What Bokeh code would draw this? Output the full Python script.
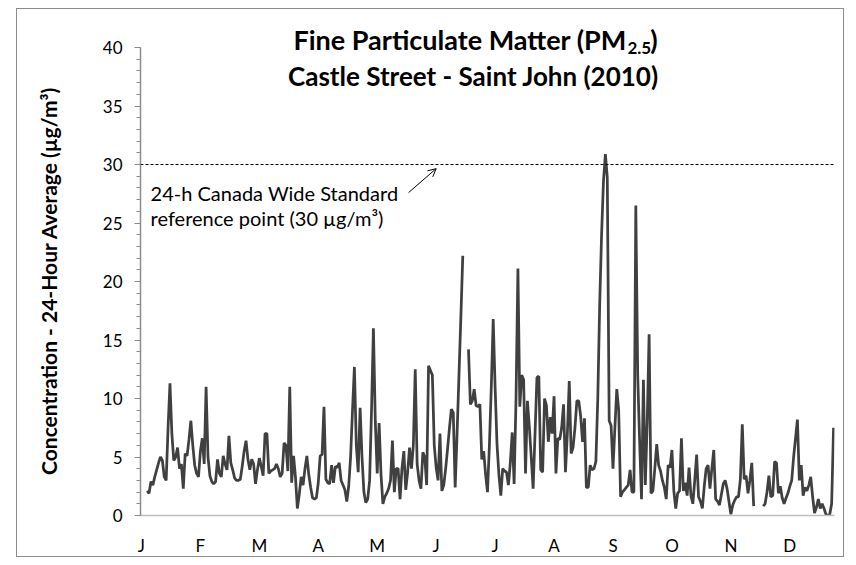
import math
from bokeh.plotting import figure
from bokeh.models import (Range1d, FixedTicker, Span, Label, Arrow, OpenHead,
                          ColumnDataSource)
from bokeh.embed import file_html
from bokeh.resources import INLINE

NaN = float("nan")

# Daily 24-h average PM2.5 (µg/m³), 2010, day index 0..364 (NaN = missing)
pm25 = [
    NaN, NaN, NaN, 2.1, 1.9, 2.9, 2.6, 3.3, 3.9, 4.5,
    5.0, 4.7, 3.3, 3.0, 7.5, 11.3, 7.0, 4.7, 5.0, 5.8,
    4.0, 4.4, 2.3, 5.3, 5.1, 6.5, 8.1, 6.0, 4.3, 3.6,
    3.3, 5.5, 6.6, 4.4, 11.0, 5.0, 3.4, 2.9, 2.7, 2.9,
    4.8, 3.6, 3.3, 5.1, 4.4, 3.9, 6.8, 4.5, 3.9, 3.2,
    3.0, 3.0, 3.1, 4.2, 5.5, 6.4, 4.8, 3.9, 4.8, 4.4,
    2.7, 3.9, 4.9, 4.2, 3.4, 7.0, 7.0, 3.6, 3.8, 3.9,
    4.0, 4.4, 4.0, 3.3, 3.6, 6.2, 6.0, 3.8, 11.0, 2.8,
    5.1, 3.3, 0.6, 1.8, 3.3, 2.6, 4.0, 5.1, 3.5, 2.4,
    1.5, 1.4, 1.5, 2.8, 5.1, 5.2, 9.3, 3.1, 2.8, 2.7,
    4.3, 2.8, 4.2, 4.1, 4.5, 3.0, 2.6, 2.2, 1.2, 2.5,
    5.0, 9.0, 12.7, 6.0, 3.7, 9.2, 5.0, 2.0, 1.1, 1.4,
    3.0, 9.0, 16.0, 8.0, 3.6, 7.9, 3.5, 1.0, 1.6, 1.9,
    2.3, 3.0, 6.4, 2.0, 4.0, 4.0, 1.4, 4.0, 5.5, 2.2,
    3.7, 5.8, 4.0, 6.0, 12.5, 4.4, 3.0, 2.3, 5.4, 5.0,
    2.6, 12.8, 12.4, 12.0, 6.0, 4.1, 3.0, 7.0, 2.1, 2.6,
    4.0, 5.7, 7.5, 9.1, 8.8, 2.4, 7.0, 12.0, 17.0, 22.2,
    NaN, NaN, 14.2, 9.5, 9.8, 10.8, 9.4, 9.3, 9.5, 4.8,
    5.5, 3.5, 2.0, 6.0, 11.0, 16.8, 11.0, 6.1, 3.5, 1.7,
    4.0, 3.8, 3.7, 2.6, 4.5, 7.1, 2.7, 10.0, 21.1, 9.3,
    12.0, 11.6, 3.6, 9.8, 7.6, 5.0, 2.3, 7.0, 11.8, 11.9,
    3.9, 3.7, 10.0, 9.4, 6.3, 8.4, 7.0, 10.2, 3.6, 6.6,
    6.5, 7.5, 9.5, 3.7, 7.0, 11.5, 5.3, 5.8, 7.5, 9.8,
    9.8, 8.5, 6.3, 8.3, 2.4, 2.4, 4.3, 3.9, 4.0, 4.6,
    10.0, 18.0, 24.0, 28.6, 30.9, 28.9, 8.1, 7.7, 4.0, 7.5,
    10.8, 9.0, 1.6, 2.0, 2.2, 2.4, 2.6, 3.9, 2.0, 2.0,
    26.5, 12.0, 6.4, 1.4, 11.6, 2.6, 8.0, 15.5, 1.9, 2.1,
    4.0, 6.1, 4.3, 3.8, 3.0, 2.4, 1.4, 4.3, 4.1, 5.6,
    2.1, 0.6, 1.9, 2.1, 6.6, 2.1, 2.8, 1.7, 4.1, 1.7,
    1.0, 3.0, 5.2, 1.6, 1.2, 0.6, 2.5, 4.0, 4.3, 2.3,
    4.0, 5.6, 1.4, 1.2, 0.9, 1.8, 2.7, 3.0, 2.3, 1.2,
    0.1, 0.9, 1.3, 1.6, 1.6, 3.1, 7.8, 3.1, 3.4, 1.9,
    3.0, 4.5, 0.8, NaN, NaN, NaN, NaN, 0.8, 1.0, 2.0,
    3.4, 1.6, 1.7, 4.6, 4.5, 1.9, 2.5, 1.5, 1.0, 1.5,
    1.9, 2.5, 3.0, 5.0, 6.6, 8.2, 3.0, 4.3, 1.7, 2.4,
    2.1, 2.6, 3.3, 1.6, 0.2, 0.7, 1.4, 0.6, 1.0, 0.6,
    0.1, 0.0, 0.1, 1.0, 7.5,
]
days = list(range(len(pm25)))

month_labels = ["J", "F", "M", "A", "M", "J", "J", "A", "S", "O", "N", "D"]
month_tick_days = [31 * i for i in range(12)]
y_major_ticks = [0, 5, 10, 15, 20, 25, 30, 35, 40]
y_minor_ticks = list(range(0, 41))
cws_standard = 30

FONT = "Lato"
NBSP = "\u00a0"

p = figure(width=828, height=549, output_backend="svg", toolbar_location=None,
           x_range=Range1d(-0.5, 364.5), y_range=Range1d(0, 42.31),
           min_border_left=123, min_border_right=11, min_border_top=11,
           min_border_bottom=41)
p.margin = (8, 0, 0, 16)
p.styles = {"border": "1px solid #8c8c8c", "box-sizing": "border-box"}
p.outline_line_color = None
p.xgrid.grid_line_color = None
p.ygrid.grid_line_color = None
p.background_fill_color = "white"
p.border_fill_color = "white"

src = ColumnDataSource(dict(day=days, pm=pm25))
p.line("day", "pm", source=src, line_color="#404040", line_width=2.75)

p.add_layout(Span(location=cws_standard, dimension="width", line_color="#000000",
                  line_width=1, line_dash="3 2"))

# Axes
xa = p.xaxis[0]
xa.ticker = FixedTicker(ticks=month_tick_days)
xa.major_label_overrides = {d: m for d, m in zip(month_tick_days, month_labels)}
xa.major_tick_out = 0
xa.major_tick_in = 0
xa.minor_tick_out = 0
xa.minor_tick_in = 0
xa.axis_line_color = "#bfbfbf"
xa.axis_line_width = 1.5
xa.major_label_standoff = 19
xa.major_label_text_font = FONT
xa.major_label_text_font_size = "17px"
xa.major_label_text_color = "#000000"

ya = p.yaxis[0]
ya.bounds = (0, 40)
ya.ticker = FixedTicker(ticks=y_major_ticks, minor_ticks=y_minor_ticks)
ya.major_tick_out = 6
ya.major_tick_in = 0
ya.minor_tick_out = 4
ya.minor_tick_in = 0
ya.major_tick_line_color = "#8c8c8c"
ya.minor_tick_line_color = "#8c8c8c"
ya.axis_line_color = "#8c8c8c"
ya.axis_line_width = 1.5
ya.major_label_standoff = 12
ya.major_label_text_font = FONT
ya.major_label_text_font_size = "17px"
ya.major_label_text_color = "#000000"
# trailing no-break spaces re-centre the label on the 0-40 axis span
ya.axis_label = "Concentration - 24-Hour Average (µg/m³)" + NBSP * 5
ya.axis_label_text_font = FONT
ya.axis_label_text_font_style = "bold"
ya.axis_label_text_font_size = "21px"
ya.axis_label_text_color = "#000000"
ya.axis_label_standoff = 39

# Title (with subscript)
p.add_layout(Label(x=255.3, y=40.7, text="Fine Particulate Matter (PM",
                   text_align="right", text_baseline="middle", text_font=FONT,
                   text_font_style="bold", text_font_size="27px", text_color="#000000"))
p.add_layout(Label(x=255.6, y=39.95, text="2.5", text_align="left",
                   text_baseline="middle", text_font=FONT, text_font_style="bold",
                   text_font_size="17px", text_color="#000000"))
p.add_layout(Label(x=267.6, y=40.7, text=")", text_align="left",
                   text_baseline="middle", text_font=FONT, text_font_style="bold",
                   text_font_size="27px", text_color="#000000"))
p.add_layout(Label(x=174.6, y=37.6, text="Castle Street - Saint John (2010)",
                   text_align="center", text_baseline="middle", text_font=FONT,
                   text_font_style="bold", text_font_size="26px", text_color="#000000"))

# Annotation
p.add_layout(Label(x=4.8, y=27.6, text="24-h Canada Wide Standard",
                   text_align="left", text_baseline="middle", text_font=FONT,
                   text_font_size="20px", text_color="#000000"))
p.add_layout(Label(x=4.8, y=25.45, text="reference point (30 µg/m³)",
                   text_align="left", text_baseline="middle", text_font=FONT,
                   text_font_size="20px", text_color="#000000"))
p.add_layout(Arrow(x_start=140.5, y_start=27.6, x_end=155.0, y_end=29.65,
                   line_color="#000000", line_width=1,
                   end=OpenHead(size=8, line_width=1, line_color="#000000")))

open("out.html", "w").write(file_html(p, INLINE))
